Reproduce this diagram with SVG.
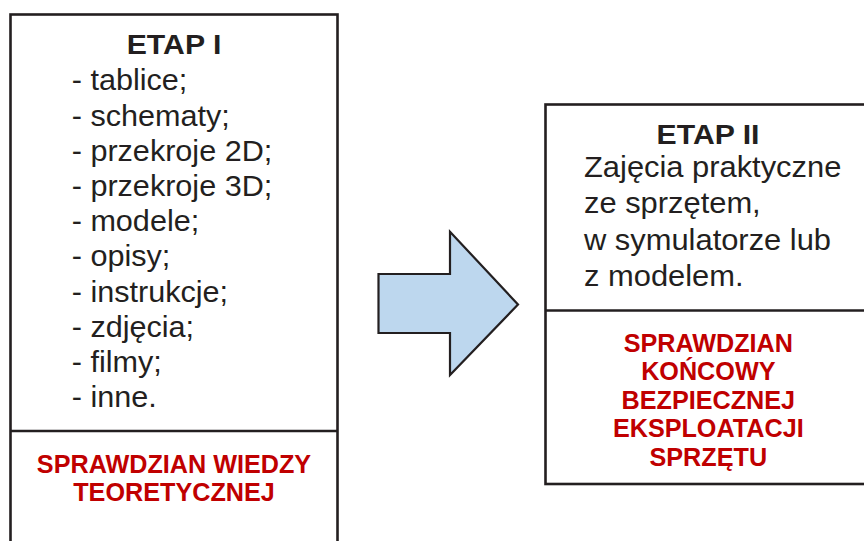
<svg xmlns="http://www.w3.org/2000/svg" width="864" height="541" viewBox="0 0 864 541">
<style>
.box{fill:#fff;stroke:#231f20;stroke-width:2.6}
.div{stroke:#231f20;stroke-width:2.6}
.t{font-family:"Liberation Sans",Arial,sans-serif;font-size:29px;fill:#231f20}
.h{font-family:"Liberation Sans",Arial,sans-serif;font-size:28.5px;font-weight:bold;fill:#231f20;text-anchor:middle}
.r{font-family:"Liberation Sans",Arial,sans-serif;font-size:25.2px;font-weight:bold;fill:#c00000;text-anchor:middle}
.arrow{fill:#bdd7ee;stroke:#231f20;stroke-width:2.2;stroke-linejoin:miter}
</style>
<rect width="864" height="541" fill="#fff"/>
<g id="etap1">
<rect class="box" x="10.5" y="14.5" width="327" height="540"/>
<line class="div" x1="10.5" y1="431" x2="337.5" y2="431"/>
<g transform="translate(174,0) scale(1.06,1)"><text class="h" x="0" y="54.3">ETAP I</text></g>
<g transform="translate(71.7,0) scale(1.055,1)">
<text class="t" x="0" y="90.5">- tablice;</text>
<text class="t" x="0" y="125.7">- schematy;</text>
<text class="t" x="0" y="160.9">- przekroje 2D;</text>
<text class="t" x="0" y="196.1">- przekroje 3D;</text>
<text class="t" x="0" y="231.3">- modele;</text>
<text class="t" x="0" y="266.5">- opisy;</text>
<text class="t" x="0" y="301.7">- instrukcje;</text>
<text class="t" x="0" y="336.9">- zdjęcia;</text>
<text class="t" x="0" y="372.1">- filmy;</text>
<text class="t" x="0" y="407.3">- inne.</text>
</g>
<text class="r" x="174" y="472.7">SPRAWDZIAN WIEDZY</text>
<text class="r" x="174" y="500.7">TEORETYCZNEJ</text>
</g>
<g id="connectors">
<polygon class="arrow" points="378.5,274 450,274 450,231.7 518,304.5 450,375 450,333 378.5,333"/>
</g>
<g id="etap2">
<rect class="box" x="545.5" y="104.5" width="330" height="379.5"/>
<line class="div" x1="545.5" y1="310.5" x2="875.5" y2="310.5"/>
<g transform="translate(708,0) scale(1.06,1)"><text class="h" x="0" y="144.3">ETAP II</text></g>
<g transform="translate(584,0) scale(1.065,1)">
<text class="t" x="0" y="177">Zajęcia praktyczne</text>
<text class="t" x="0" y="213.5">ze sprzętem,</text>
<text class="t" x="0" y="250">w symulatorze lub</text>
<text class="t" x="0" y="286.5">z modelem.</text>
</g>
<text class="r" x="708.3" y="351.5">SPRAWDZIAN</text>
<text class="r" x="708.3" y="380">KOŃCOWY</text>
<text class="r" x="708.3" y="408.5">BEZPIECZNEJ</text>
<text class="r" x="708.3" y="437">EKSPLOATACJI</text>
<text class="r" x="708.3" y="465.5">SPRZĘTU</text>
</g>
</svg>
